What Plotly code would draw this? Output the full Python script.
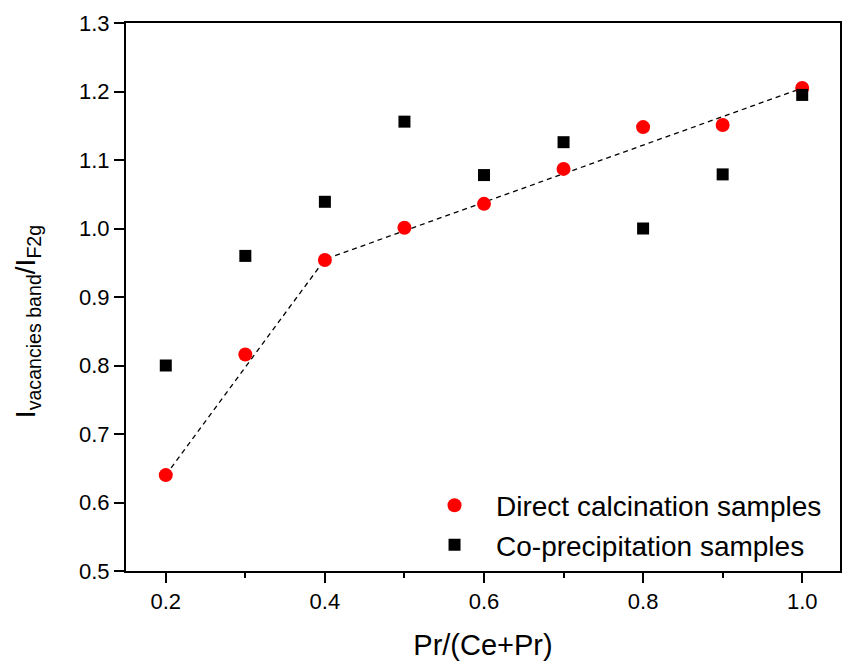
import plotly.graph_objects as go

x_vals = [0.2, 0.3, 0.4, 0.5, 0.6, 0.7, 0.8, 0.9, 1.0]
direct_calc = [0.640, 0.816, 0.954, 1.001, 1.036, 1.087, 1.148, 1.151, 1.205]
co_precip = [0.800, 0.960, 1.039, 1.156, 1.078, 1.126, 1.000, 1.079, 1.195]
fit_x = [0.2, 0.4, 1.0]
fit_y = [0.640, 0.955, 1.205]

FONT = "Arial, 'Liberation Sans', sans-serif"

fig = go.Figure()
fig.add_trace(go.Scatter(x=fit_x, y=fit_y, mode="lines",
                         line=dict(color="black", width=1.3, dash="5px,4px"),
                         showlegend=False, hoverinfo="skip"))
fig.add_trace(go.Scatter(x=x_vals, y=direct_calc, mode="markers",
                         name="Direct calcination samples",
                         marker=dict(symbol="circle", size=14, color="#ff0000",
                                     line=dict(width=0))))
fig.add_trace(go.Scatter(x=x_vals, y=co_precip, mode="markers",
                         name="Co-precipitation samples",
                         marker=dict(symbol="square", size=12, color="black",
                                     line=dict(width=0))))

axis_common = dict(showline=True, linecolor="black", linewidth=2, mirror=True,
                   ticks="outside", ticklen=10, tickwidth=2, tickcolor="black",
                   showgrid=False, zeroline=False,
                   tickfont=dict(family=FONT, size=22, color="black"))

fig.update_layout(
    width=843, height=663,
    margin=dict(l=126, r=1, t=23, b=92),
    paper_bgcolor="white", plot_bgcolor="white",
    font=dict(family=FONT, color="black"),
    xaxis=dict(range=[0.15, 1.0475], tickvals=[0.2, 0.4, 0.6, 0.8, 1.0],
               ticktext=["0.2", "0.4", "0.6", "0.8", "1.0"],
               minor=dict(tickvals=[0.3, 0.5, 0.7, 0.9], ticks="outside",
                          ticklen=5, tickwidth=2, tickcolor="black"),
               title=dict(text="Pr/(Ce+Pr)", font=dict(family=FONT, size=29),
                          standoff=21),
               **axis_common),
    yaxis=dict(range=[0.5, 1.3], dtick=0.1, tickformat=".1f", **axis_common),
    annotations=[dict(text="I<sub>vacancies band</sub>/I<sub>F2g</sub>",
                      textangle=-90, xref="paper", yref="paper",
                      x=-0.138, y=0.455, xanchor="center", yanchor="middle",
                      showarrow=False,
                      font=dict(family=FONT, size=28, color="black"))],
    legend=dict(x=0.402, y=0.165, xanchor="left", yanchor="top",
                bgcolor="rgba(0,0,0,0)", itemwidth=73,
                font=dict(family=FONT, size=28, color="black")),
)

fig.write_html("out.html")
